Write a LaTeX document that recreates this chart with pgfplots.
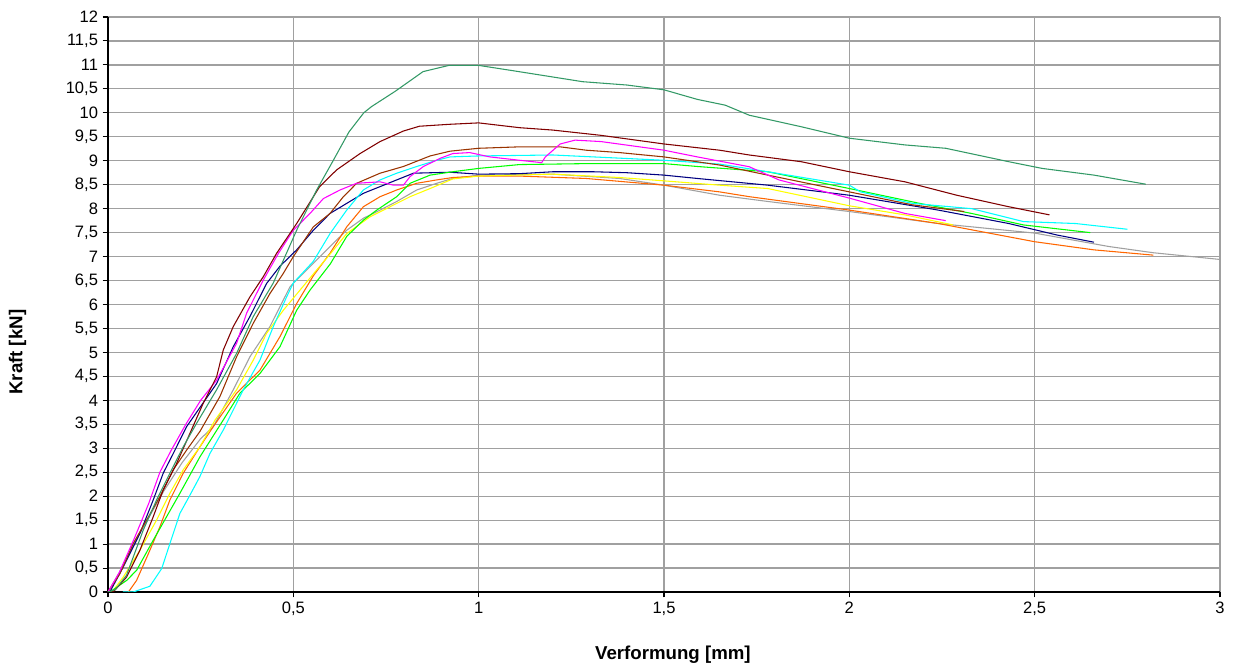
\documentclass[border=0pt]{standalone}
\usepackage{pgfplots}
\pgfplotsset{compat=1.18}
\usepackage{fontspec}
\setmainfont{Liberation Sans}
\definecolor{cSea}{RGB}{51,153,102}
\definecolor{cDred}{RGB}{128,0,0}
\definecolor{cBrown}{RGB}{153,51,0}
\definecolor{cMag}{RGB}{255,0,255}
\definecolor{cCyan}{RGB}{0,255,255}
\definecolor{cGreen}{RGB}{0,255,0}
\definecolor{cNavy}{RGB}{0,0,128}
\definecolor{cYel}{RGB}{255,255,0}
\definecolor{cOrange}{RGB}{255,102,0}
\definecolor{cGray}{RGB}{160,160,160}
\definecolor{cGrid}{RGB}{160,160,160}
\begin{document}
\begin{tikzpicture}
\begin{axis}[
  at={(0,0)}, anchor=south west,
  scale only axis, width=834pt, height=431.25pt,
  xmin=0, xmax=3, ymin=0, ymax=12,
  xtick={0,0.5,...,3}, ytick={0,0.5,...,12},
  axis x line*=bottom, axis y line*=left,
  axis line style={black, line width=0.9pt, -},
  grid=major, major grid style={cGrid, line width=0.9pt},
  tick style={black, line width=0.8pt},
  major tick length=4pt, tick align=outside,
  /pgf/number format/.cd, fixed, use comma, precision=1, assume math mode=true,
  /pgfplots/.cd,
  ticklabel style={font=\fontsize{12.4}{14}\selectfont},
  xlabel={\textbf{Verformung [mm]}}, ylabel={\textbf{Kraft [kN]}},
  every axis x label/.style={at={(axis description cs:0.508,-0.1096)}, anchor=center, font=\fontsize{14}{16}\selectfont},
  every axis y label/.style={at={(axis description cs:-0.0814,0.417)}, anchor=center, rotate=90, font=\fontsize{14}{16}\selectfont},
  every axis plot/.append style={line width=0.8pt, no marks},
  clip=true,
]
% gray
\addplot[cGray] coordinates {(0,0)(0.03,0.4)(0.07,1.0)(0.11,1.55)(0.15,2.1)(0.2,2.7)(0.25,3.2)(0.284,3.45)(0.338,4.22)(0.383,4.91)(0.437,5.54)(0.491,6.37)(0.536,6.72)(0.599,7.21)(0.644,7.55)(0.689,7.8)(0.734,7.97)(0.779,8.15)(0.833,8.39)(0.887,8.53)(0.93,8.63)(1.0,8.7)(1.2,8.72)(1.38,8.63)(1.5,8.49)(1.65,8.28)(1.78,8.15)(2.0,7.94)(2.24,7.69)(2.5,7.49)(2.7,7.21)(2.82,7.08)(3.0,6.94)};
% orange
\addplot[cOrange] coordinates {(0.055,0)(0.077,0.24)(0.109,0.80)(0.14,1.36)(0.167,1.92)(0.203,2.48)(0.248,3.03)(0.284,3.45)(0.347,4.15)(0.41,4.63)(0.464,5.33)(0.509,6.02)(0.554,6.6)(0.599,7.07)(0.644,7.62)(0.689,8.04)(0.734,8.25)(0.779,8.39)(0.833,8.53)(0.887,8.6)(0.93,8.65)(1.0,8.68)(1.11,8.68)(1.29,8.63)(1.5,8.49)(1.65,8.35)(1.73,8.25)(2.0,7.97)(2.24,7.69)(2.5,7.31)(2.66,7.14)(2.82,7.03)};
% yellow
\addplot[cYel] coordinates {(0,0)(0.014,0.03)(0.041,0.31)(0.086,0.87)(0.131,1.5)(0.167,2.06)(0.203,2.55)(0.248,3.03)(0.289,3.59)(0.347,4.22)(0.392,4.84)(0.428,5.40)(0.473,5.88)(0.518,6.30)(0.563,6.72)(0.599,7.05)(0.644,7.48)(0.707,7.83)(0.761,8.04)(0.815,8.25)(0.869,8.42)(0.93,8.62)(1.0,8.68)(1.2,8.72)(1.38,8.65)(1.5,8.58)(1.65,8.49)(1.78,8.42)(2.0,8.06)(2.15,7.87)(2.28,7.66)};
% navy
\addplot[cNavy] coordinates {(0,0)(0.005,0)(0.041,0.52)(0.086,1.22)(0.122,1.92)(0.149,2.48)(0.176,2.89)(0.212,3.45)(0.293,4.35)(0.338,5.12)(0.383,5.75)(0.428,6.44)(0.464,6.8)(0.509,7.14)(0.554,7.55)(0.599,7.9)(0.644,8.11)(0.689,8.32)(0.734,8.46)(0.779,8.6)(0.824,8.74)(0.923,8.76)(1.0,8.72)(1.11,8.73)(1.2,8.77)(1.31,8.77)(1.4,8.75)(1.5,8.7)(1.59,8.63)(1.78,8.49)(2.0,8.28)(2.24,7.97)(2.43,7.69)(2.56,7.45)(2.66,7.3)};
% green
\addplot[cGreen] coordinates {(0,0)(0.005,0)(0.05,0.24)(0.077,0.45)(0.122,1.08)(0.158,1.57)(0.194,2.06)(0.248,2.82)(0.311,3.59)(0.356,4.15)(0.41,4.56)(0.464,5.12)(0.509,5.88)(0.545,6.3)(0.6,6.85)(0.644,7.42)(0.689,7.76)(0.725,7.97)(0.779,8.25)(0.815,8.53)(0.869,8.7)(0.93,8.77)(1.0,8.84)(1.11,8.92)(1.29,8.94)(1.5,8.94)(1.59,8.88)(1.78,8.77)(2.0,8.42)(2.19,8.11)(2.33,7.9)(2.47,7.66)(2.65,7.5)};
% cyan
\addplot[cCyan] coordinates {(0.04,0)(0.068,0)(0.113,0.12)(0.145,0.49)(0.167,1.01)(0.194,1.64)(0.221,2.02)(0.248,2.41)(0.275,2.89)(0.311,3.38)(0.365,4.22)(0.41,4.84)(0.446,5.54)(0.482,6.16)(0.5,6.45)(0.554,6.9)(0.599,7.48)(0.644,7.97)(0.689,8.39)(0.734,8.6)(0.779,8.74)(0.833,8.88)(0.887,9.01)(0.923,9.08)(1.0,9.1)(1.2,9.12)(1.5,9.01)(1.65,8.93)(1.78,8.77)(2.0,8.49)(2.03,8.35)(2.17,8.11)(2.33,8.0)(2.47,7.73)(2.61,7.69)(2.75,7.57)};
% brown
\addplot[cBrown] coordinates {(0,0)(0.032,0.38)(0.068,1.01)(0.104,1.5)(0.14,1.99)(0.176,2.55)(0.212,2.96)(0.248,3.35)(0.302,4.08)(0.347,4.91)(0.392,5.61)(0.437,6.23)(0.473,6.65)(0.5,7.0)(0.554,7.62)(0.599,7.9)(0.635,8.25)(0.671,8.53)(0.734,8.74)(0.797,8.88)(0.869,9.1)(0.923,9.2)(1.0,9.26)(1.11,9.29)(1.22,9.29)(1.29,9.22)(1.38,9.17)(1.5,9.08)(1.65,8.91)(1.78,8.70)(2.0,8.35)(2.17,8.08)(2.31,7.94)};
% magenta
\addplot[cMag] coordinates {(0,0)(0.03,0.4)(0.07,1.1)(0.11,1.85)(0.14,2.5)(0.17,2.95)(0.21,3.5)(0.25,4.0)(0.293,4.42)(0.347,5.19)(0.374,5.82)(0.419,6.51)(0.46,7.07)(0.5,7.55)(0.545,7.9)(0.581,8.21)(0.626,8.39)(0.671,8.53)(0.734,8.56)(0.77,8.49)(0.797,8.49)(0.815,8.67)(0.851,8.88)(0.896,9.05)(0.93,9.15)(0.976,9.17)(1.03,9.08)(1.11,9.01)(1.17,8.96)(1.18,9.08)(1.22,9.35)(1.26,9.43)(1.33,9.40)(1.5,9.22)(1.59,9.08)(1.73,8.875)(1.81,8.6)(2.0,8.22)(2.15,7.9)(2.26,7.75)};
% dark red
\addplot[cDred] coordinates {(0,0)(0.014,0)(0.05,0.31)(0.086,0.87)(0.122,1.57)(0.149,2.13)(0.185,2.68)(0.221,3.31)(0.257,3.94)(0.293,4.49)(0.311,5.05)(0.338,5.54)(0.383,6.16)(0.419,6.58)(0.455,7.07)(0.509,7.69)(0.571,8.46)(0.617,8.81)(0.68,9.15)(0.734,9.4)(0.797,9.62)(0.84,9.72)(0.92,9.76)(1.0,9.79)(1.11,9.69)(1.2,9.64)(1.33,9.53)(1.5,9.35)(1.65,9.22)(1.73,9.12)(1.87,8.98)(2.0,8.77)(2.15,8.56)(2.29,8.28)(2.43,8.04)(2.54,7.87)};
% sea green
\addplot[cSea] coordinates {(0,0)(0.02,0.05)(0.05,0.35)(0.095,1.29)(0.131,1.92)(0.167,2.48)(0.203,3.03)(0.239,3.52)(0.293,4.22)(0.347,4.98)(0.392,5.75)(0.446,6.45)(0.509,7.55)(0.563,8.39)(0.608,9.01)(0.65,9.6)(0.69,10.0)(0.711,10.13)(0.775,10.45)(0.85,10.86)(0.92,10.99)(1.0,10.99)(1.1,10.87)(1.28,10.65)(1.4,10.58)(1.5,10.48)(1.59,10.28)(1.665,10.16)(1.73,9.95)(1.87,9.71)(2.0,9.47)(2.15,9.33)(2.26,9.26)(2.43,8.98)(2.52,8.84)(2.66,8.70)(2.8,8.51)};
\end{axis}
\pgfresetboundingbox
\path (-81pt,-55.5pt) rectangle (847.5pt,444pt);
\end{tikzpicture}
\end{document}
